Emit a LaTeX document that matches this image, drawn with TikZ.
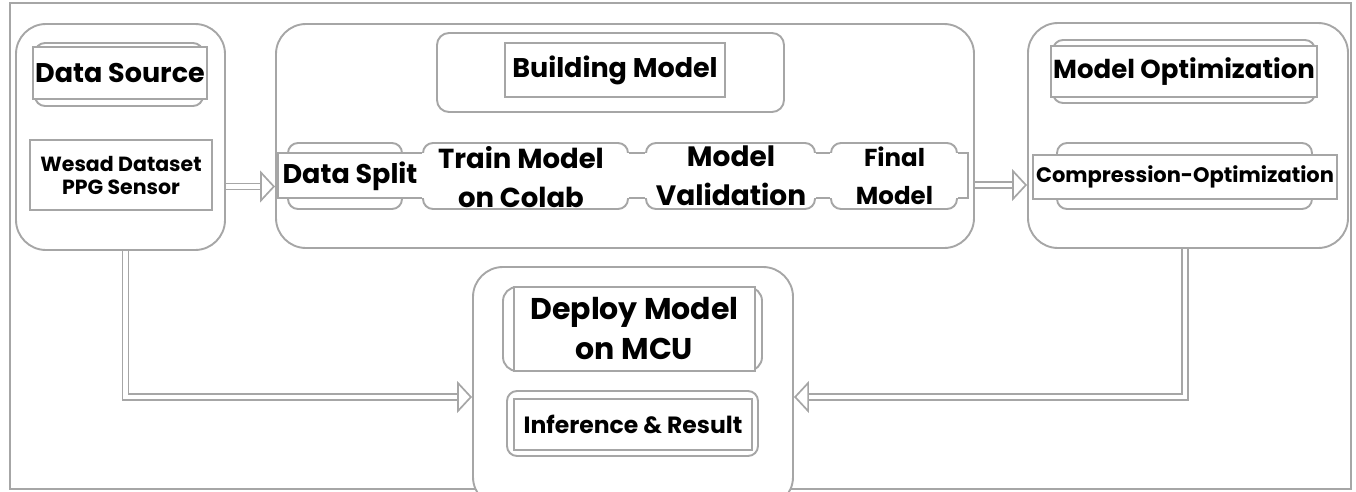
\documentclass[tikz,border=0pt]{standalone}
\usepackage{fontspec}
\setmainfont{Poppins}
\usepackage{xcolor}
\usepackage{tikz}
\usetikzlibrary{arrows.meta}

\definecolor{boxgray}{RGB}{166,166,166}

\tikzset{
    ln/.style={draw=boxgray, line width=1.9pt},
    grp/.style={ln, fill=white, rounded corners=30pt},
    rbox/.style={ln, fill=white, rounded corners=10pt},
    pbox/.style={ln, fill=white, inner sep=0pt},
    big/.style={font=\fontsize{27}{39}\selectfont\bfseries, align=center},
    huge/.style={font=\fontsize{30}{40}\selectfont\bfseries, align=center},
    mid/.style={font=\fontsize{21}{24}\selectfont\bfseries, align=center},
    small/.style={font=\fontsize{20.5}{23}\selectfont\bfseries, align=center},
    dbl/.style={draw=boxgray, line width=1.7pt, double=white, double distance=4.5pt,
        -{Triangle[open, length=15pt, width=32pt]}}
}

\begin{document}
\begin{tikzpicture}[x=1pt, y=-1pt]
        \useasboundingbox (0,0) rectangle (1356,491);
        \clip (0,0) rectangle (1356,491);
        \node (frame) [ln, minimum width=1341pt, minimum height=486pt, inner sep=0pt] at (680.5,246) {};

        % the four groups
        \node (src) [grp, minimum width=209pt, minimum height=226pt] at (120.5,137) {};
        \node (build) [grp, minimum width=698pt, minimum height=224pt] at (625,136) {};
        \node (opt) [grp, minimum width=320pt, minimum height=225pt] at (1188,135.5) {};
        \node (dep) [grp, minimum width=320pt, minimum height=240pt] at (633,387) {};

        % arrows between the groups
        \draw [dbl] ([yshift=-49.5pt]src.east) -- ([yshift=-49.5pt]src.east -| build.west);
        \draw [dbl] ([yshift=-49pt]build.east) -- ([yshift=-49pt]build.east -| opt.west);
        \draw [dbl] ([xshift=5pt]src.south) |- ([yshift=-10pt]dep.west);
        \draw [dbl] ([xshift=-3pt]opt.south) |- ([yshift=-10pt]dep.east);

        % data source
        \node (srcbg) [rbox, minimum width=168pt, minimum height=63pt] at (119,74.5) {};
        \node (srchead) [pbox, big, minimum width=174pt, minimum height=52pt] at (120,73) {Data Source};
        \node (wesad) [pbox, small, minimum width=182pt, minimum height=70pt] at (121,175) {Wesad Dataset\\PPG Sensor};

        % building model
        \node (buildbg) [rbox, rounded corners=12pt, minimum width=347pt, minimum height=79pt] at (610.5,72.5) {};
        \node (buildhead) [pbox, big, minimum width=220pt, minimum height=54pt] at (615,70) {Building Model};

        \node (splt) [rbox, minimum width=114pt, minimum height=66pt] at (345,176) {};
        \node (trn) [rbox, minimum width=205pt, minimum height=66pt] at (525.5,176) {};
        \node (val) [rbox, minimum width=169pt, minimum height=66pt] at (730.5,176) {};
        \node (fin) [rbox, minimum width=126pt, minimum height=66pt] at (894,176) {};
        \node (band) [fill=white, minimum width=690pt, minimum height=45pt, inner sep=0pt] at (623,175.5) {};
        \draw [ln] (trn.west |- band.north) -- (band.north west) -- (band.south west) -- (trn.west |- band.south);
        \draw [ln] (trn.east |- band.north) -- (val.west |- band.north);
        \draw [ln] (trn.east |- band.south) -- (val.west |- band.south);
        \draw [ln] (val.east |- band.north) -- (fin.west |- band.north);
        \draw [ln] (val.east |- band.south) -- (fin.west |- band.south);
        \draw [ln] (fin.east |- band.north) -- (band.north east) -- (band.south east) -- (fin.east |- band.south);
        \node (splttxt) [big] at (350,176) {Data Split};
        \node (trntxt) [big, font=\fontsize{27.5}{39}\selectfont\bfseries] at (521,177) {Train Model\\on Colab};
        \node (valtxt) [big, font=\fontsize{28}{39}\selectfont\bfseries] at (731,176) {Model\\Validation};
        \node (fintxt) [big, font=\fontsize{24.5}{38}\selectfont\bfseries] at (894.5,176) {Final\\Model};

        % model optimization
        \node (optbg) [rbox, minimum width=262pt, minimum height=63pt] at (1184,71.5) {};
        \node (opthead) [pbox, big, font=\fontsize{26}{38}\selectfont\bfseries, minimum width=266pt, minimum height=51pt] at (1184,71.5) {Model Optimization};
        \node (cmpbg) [rbox, minimum width=255pt, minimum height=66pt] at (1184.5,176) {};
        \node (cmp) [pbox, mid, minimum width=304pt, minimum height=44pt] at (1185,177) {Compression-Optimization};

        % deployment
        \node (depbg) [rbox, rounded corners=14pt, minimum width=259pt, minimum height=84pt] at (632.5,329) {};
        \node (dephead) [pbox, huge, minimum width=241pt, minimum height=84pt] at (634.5,329) {Deploy Model\\on MCU};
        \node (infbg) [rbox, minimum width=251pt, minimum height=65pt] at (632.5,423.5) {};
        \node (inf) [pbox, mid, font=\fontsize{23.5}{26}\selectfont\bfseries, minimum width=238pt, minimum height=51pt] at (633,424.5) {Inference \& Result};
\end{tikzpicture}
\end{document}
